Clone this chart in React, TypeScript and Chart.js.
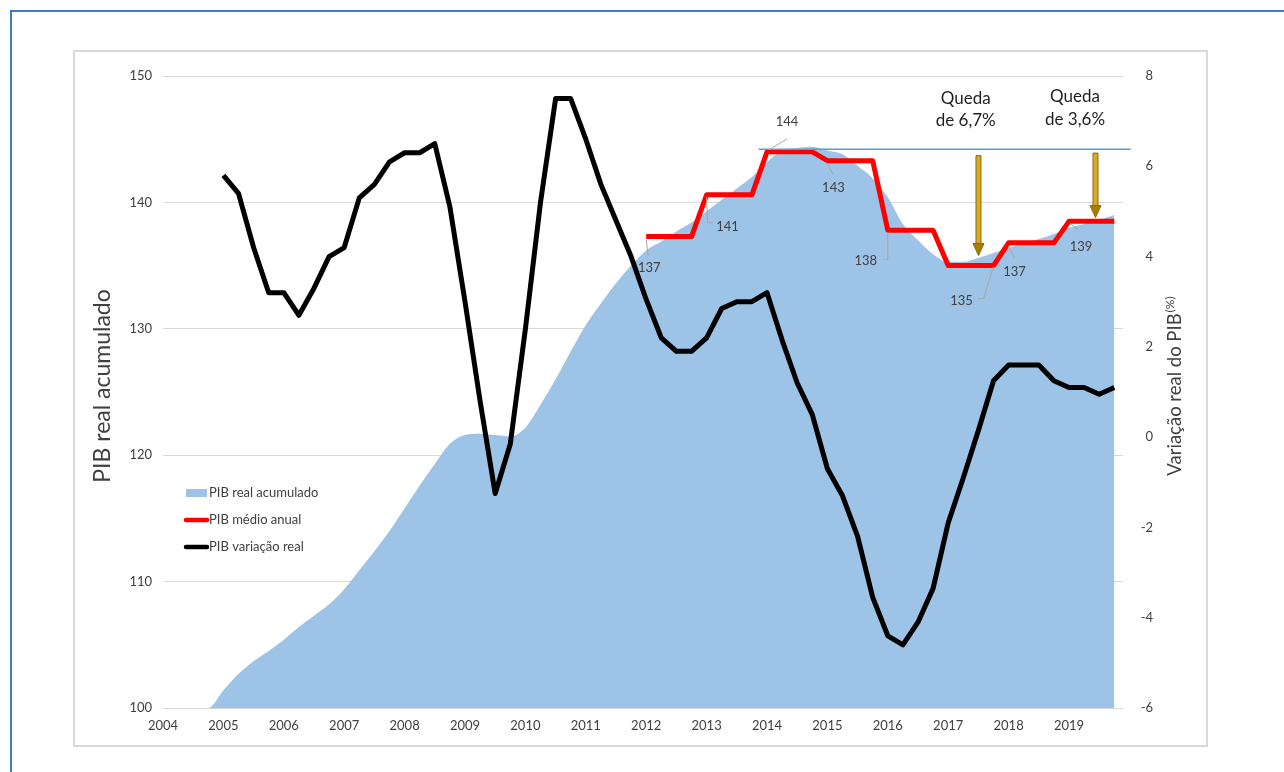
import React, { useEffect, useRef } from 'react';
import { Chart, registerables } from 'chart.js';

Chart.register(...registerables);

// ---------- DATA ----------
const START_YEAR = 2004;
const yearTicks = [2004, 2005, 2006, 2007, 2008, 2009, 2010, 2011, 2012, 2013, 2014, 2015, 2016, 2017, 2018, 2019];

// quarterly, 2004Q1 .. 2019Q4 (left axis)
const pibAcumulado = [
  100, 100, 100, 100,
  101.4, 102.7, 103.7, 104.5,
  105.4, 106.4, 107.3, 108.2,
  109.4, 110.9, 112.4, 114.0,
  115.8, 117.6, 119.3, 120.9,
  121.6, 121.7, 121.6, 121.5,
  122.2, 124.0, 126.0, 128.2,
  130.3, 132.0, 133.6, 135.0,
  136.2, 136.9, 137.7, 138.4,
  139.3, 140.2, 141.1, 142.0,
  143.2, 144.1, 144.3, 144.4,
  144.1, 143.8, 142.9, 141.9,
  140.4, 138.3, 137.0, 135.9,
  135.3, 135.3, 135.6, 136.0,
  136.4, 136.8, 137.1, 137.5,
  138.0, 138.3, 138.6, 139.0,
];

// quarterly, 2004Q1 .. 2019Q4 (right axis, %)
const pibVariacao: (number | null)[] = [
  null, null, null, null,
  5.8, 5.4, 4.2, 3.2,
  3.2, 2.7, 3.3, 4.0,
  4.2, 5.3, 5.6, 6.1,
  6.3, 6.3, 6.5, 5.1,
  3.0, 0.8, -1.25, -0.15,
  2.4, 5.2, 7.5, 7.5,
  6.6, 5.6, 4.8, 4.0,
  3.05, 2.2, 1.9, 1.9,
  2.2, 2.85, 3.0, 3.0,
  3.2, 2.15, 1.2, 0.5,
  -0.7, -1.3, -2.2, -3.55,
  -4.4, -4.6, -4.1, -3.35,
  -1.9, -0.9, 0.15, 1.25,
  1.6, 1.6, 1.6, 1.25,
  1.1, 1.1, 0.95, 1.1,
];

// annual averages (left axis)
const anosMedio = [2012, 2013, 2014, 2015, 2016, 2017, 2018, 2019];
const pibMedioAnual = [137.3, 140.6, 144.0, 143.3, 137.8, 135.0, 136.8, 138.5];

// reference line at the 2014 peak
const picoValor = 144.2;
const picoDe = 2013.86;
const picoAte = 2020.02;

// arrows (x in years, values on left axis)
const setaX = [2017.5, 2019.43];
const setaDe = [143.7, 143.9];
const setaAte = [135.8, 138.8];

// annotations
const quedaX = [2017.29, 2019.1];
const quedaY = [147.35, 147.47];
const quedaTextos = [['Queda', 'de 6,7%'], ['Queda', 'de 3,6%']];

const legendLabels = ['PIB real acumulado', 'PIB médio anual', 'PIB variação real'];

// ---------- STYLE (label layout for each annual value) ----------
const labelLayout = [
  { q: 0, t: [3, 31], l: [[0, 3], [2, 19]] },
  { q: 0, t: [21, 32], l: [[0, 2], [1, 28], [6, 28]] },
  { q: 0, t: [20, -30], l: [[2, -2], [20, -13]] },
  { q: 0, t: [6, 27], l: [[-1, 2], [6, 14]] },
  { q: 0, t: [-22, 31], l: [[0, 2], [0, 29], [-5, 29]] },
  { q: 3, t: [-32, 35], l: [[0, 1], [-10, 33], [-15, 33]] },
  { q: 0, t: [6, 29], l: [[0, 3], [6, 15]] },
  { q: 0, t: [12, 25], l: [[1, 2], [9, 8]] },
];

const FONT = "Lato, 'Open Sans', sans-serif";
const AREA_COLOR = '#9DC3E6';

export default function App() {
  const ref = useRef<HTMLCanvasElement>(null);

  useEffect(() => {
    const canvas = ref.current;
    if (!canvas) return;

    const xs = pibAcumulado.map((_, i) => START_YEAR + i / 4);
    const areaData = pibAcumulado.map((v, i) => ({ x: xs[i], y: v }));
    const varData = pibVariacao
      .map((v, i) => (v === null ? null : { x: xs[i], y: v }))
      .filter((p) => p !== null);
    const medioData = anosMedio.flatMap((ano, k) =>
      [0, 1, 2, 3].map((q) => ({ x: ano + q / 4, y: pibMedioAnual[k] }))
    );

    const overlay = {
      id: 'overlay',
      afterDatasetsDraw(chart: any) {
        const { ctx, scales } = chart;
        const sx = scales.x;
        const yL = scales.yL;
        ctx.save();

        // peak reference line
        ctx.strokeStyle = '#5B9BD5';
        ctx.lineWidth = 1.5;
        ctx.beginPath();
        ctx.moveTo(sx.getPixelForValue(picoDe), yL.getPixelForValue(picoValor));
        ctx.lineTo(sx.getPixelForValue(picoAte), yL.getPixelForValue(picoValor));
        ctx.stroke();

        // data labels with leader lines
        ctx.font = `13px ${FONT}`;
        ctx.textAlign = 'center';
        ctx.textBaseline = 'middle';
        anosMedio.forEach((ano, k) => {
          const lay = labelLayout[k];
          const ax = sx.getPixelForValue(ano + lay.q / 4);
          const ay = yL.getPixelForValue(pibMedioAnual[k]);
          ctx.strokeStyle = '#A6A6A6';
          ctx.lineWidth = 1;
          ctx.beginPath();
          lay.l.forEach((p, j) => {
            if (j === 0) ctx.moveTo(ax + p[0], ay + p[1]);
            else ctx.lineTo(ax + p[0], ay + p[1]);
          });
          ctx.stroke();
          ctx.fillStyle = '#404040';
          ctx.fillText(String(Math.round(pibMedioAnual[k])), ax + lay.t[0], ay + lay.t[1]);
        });

        // arrows
        setaX.forEach((xv, k) => {
          const px = Math.round(sx.getPixelForValue(xv)) + 0.5;
          const y0 = yL.getPixelForValue(setaDe[k]);
          const y1 = yL.getPixelForValue(setaAte[k]);
          const head = 12;
          const sw = 2.5;
          const hw = 5.5;
          ctx.fillStyle = '#D8A92A';
          ctx.strokeStyle = '#8F6A00';
          ctx.lineWidth = 1;
          ctx.beginPath();
          ctx.rect(px - sw, y0, sw * 2, y1 - head - y0);
          ctx.fill();
          ctx.stroke();
          ctx.fillStyle = '#A87E00';
          ctx.beginPath();
          ctx.moveTo(px - hw, y1 - head);
          ctx.lineTo(px + hw, y1 - head);
          ctx.lineTo(px, y1);
          ctx.closePath();
          ctx.fill();
          ctx.stroke();
        });

        // "Queda" texts
        ctx.font = `17px ${FONT}`;
        ctx.fillStyle = '#1f1f1f';
        ctx.textAlign = 'center';
        ctx.textBaseline = 'middle';
        quedaX.forEach((xv, k) => {
          const px = sx.getPixelForValue(xv);
          const py = yL.getPixelForValue(quedaY[k]);
          const lines = quedaTextos[k];
          const lh = 22.5;
          lines.forEach((t, j) => {
            ctx.fillText(t, px, py + (j - (lines.length - 1) / 2) * lh);
          });
        });
        ctx.restore();
      },
      afterDraw(chart: any) {
        const { ctx, chartArea } = chart;
        ctx.save();

        // legend
        const lx = chartArea.left + 23;
        const ly = chartArea.top + 417;
        const gap = 27;
        ctx.font = `13px ${FONT}`;
        ctx.textAlign = 'left';
        ctx.textBaseline = 'middle';
        ctx.fillStyle = AREA_COLOR;
        ctx.fillRect(lx, ly - 4, 21, 8);
        ctx.lineCap = 'round';
        ctx.lineWidth = 4.5;
        ctx.strokeStyle = '#FF0000';
        ctx.beginPath();
        ctx.moveTo(lx, ly + gap);
        ctx.lineTo(lx + 21, ly + gap);
        ctx.stroke();
        ctx.strokeStyle = '#000000';
        ctx.beginPath();
        ctx.moveTo(lx, ly + gap * 2);
        ctx.lineTo(lx + 21, ly + gap * 2);
        ctx.stroke();
        ctx.fillStyle = '#404040';
        legendLabels.forEach((t, j) => ctx.fillText(t, lx + 23, ly + j * gap));

        // axis titles
        const cy = (chartArea.top + chartArea.bottom) / 2 - 6;
        ctx.fillStyle = '#404040';
        ctx.save();
        ctx.translate(chartArea.left - 60, cy);
        ctx.rotate(-Math.PI / 2);
        ctx.textAlign = 'center';
        ctx.textBaseline = 'middle';
        ctx.font = `23px ${FONT}`;
        ctx.fillText('PIB real acumulado', 0, 0);
        ctx.restore();

        ctx.save();
        ctx.translate(chartArea.right + 52, cy);
        ctx.rotate(-Math.PI / 2);
        ctx.textBaseline = 'middle';
        ctx.textAlign = 'left';
        const t1 = 'Variação real do PIB';
        const t2 = '(%)';
        ctx.font = `18.5px ${FONT}`;
        const w1 = ctx.measureText(t1).width;
        ctx.font = `12px ${FONT}`;
        const w2 = ctx.measureText(t2).width;
        const total = w1 + 1 + w2;
        ctx.font = `18.5px ${FONT}`;
        ctx.fillText(t1, -total / 2, 0);
        ctx.font = `12px ${FONT}`;
        ctx.fillText(t2, -total / 2 + w1 + 1, -5);
        ctx.restore();

        ctx.restore();
      },
    };

    const tickFont = { family: FONT, size: 13 };

    const chart = new Chart(canvas, {
      type: 'line',
      data: {
        datasets: [
          {
            label: legendLabels[2],
            data: varData as any,
            yAxisID: 'yR',
            borderColor: '#000000',
            borderWidth: 5,
            pointRadius: 0,
            tension: 0,
            borderJoinStyle: 'round',
            fill: false,
          },
          {
            label: legendLabels[1],
            data: medioData,
            yAxisID: 'yL',
            borderColor: '#FF0000',
            borderWidth: 5,
            pointRadius: 0,
            tension: 0,
            borderJoinStyle: 'round',
            fill: false,
          },
          {
            label: legendLabels[0],
            data: areaData,
            yAxisID: 'yL',
            borderWidth: 0,
            borderColor: AREA_COLOR,
            backgroundColor: AREA_COLOR,
            pointRadius: 0,
            cubicInterpolationMode: 'monotone',
            fill: 'start',
          },
        ],
      },
      options: {
        responsive: false,
        animation: false,
        devicePixelRatio: 1,
        layout: { padding: { left: 0, right: 123, top: 68, bottom: 0 } },
        plugins: {
          legend: { display: false },
          tooltip: { enabled: false },
          title: { display: false },
        },
        scales: {
          x: {
            type: 'linear',
            min: 2004,
            max: 2019.894,
            afterBuildTicks: (s: any) => {
              s.ticks = yearTicks.map((v) => ({ value: v }));
            },
            afterFit: (s: any) => {
              s.height = 56;
            },
            grid: { display: false, drawTicks: false },
            border: { display: false },
            ticks: {
              padding: 10,
              color: '#404040',
              font: tickFont,
              maxRotation: 0,
              autoSkip: false,
              callback: (v: any) => String(v),
            },
          },
          yL: {
            position: 'left',
            min: 100,
            max: 150,
            afterFit: (s: any) => {
              s.width = 155;
            },
            grid: { color: '#D9D9D9', lineWidth: 1, drawTicks: false },
            border: { display: false },
            ticks: { stepSize: 10, padding: 11, color: '#404040', font: tickFont },
          },
          yR: {
            position: 'right',
            min: -6,
            max: 8,
            afterFit: (s: any) => {
              s.width = 30;
            },
            grid: { display: false, drawTicks: false },
            border: { display: false },
            ticks: {
              stepSize: 2,
              padding: 10,
              crossAlign: 'far',
              color: '#404040',
              font: tickFont,
            },
          },
        },
      } as any,
      plugins: [overlay],
    });

    return () => chart.destroy();
  }, []);

  return (
    <div style={{ position: 'relative', width: 1268, height: 756 }}>
      <div
        style={{
          position: 'fixed',
          left: 10,
          top: 10,
          width: 1274,
          height: 762,
          borderTop: '2px solid #3D7CC9',
          borderLeft: '2px solid #3D7CC9',
          boxSizing: 'border-box',
        }}
      />
      <div
        style={{
          position: 'absolute',
          left: 65,
          top: 42,
          width: 1135,
          height: 697,
          border: '2px solid #D9D9D9',
          boxSizing: 'border-box',
        }}
      />
      <canvas
        ref={ref}
        width={1268}
        height={756}
        style={{ position: 'absolute', left: 0, top: 0, width: 1268, height: 756 }}
      />
    </div>
  );
}
